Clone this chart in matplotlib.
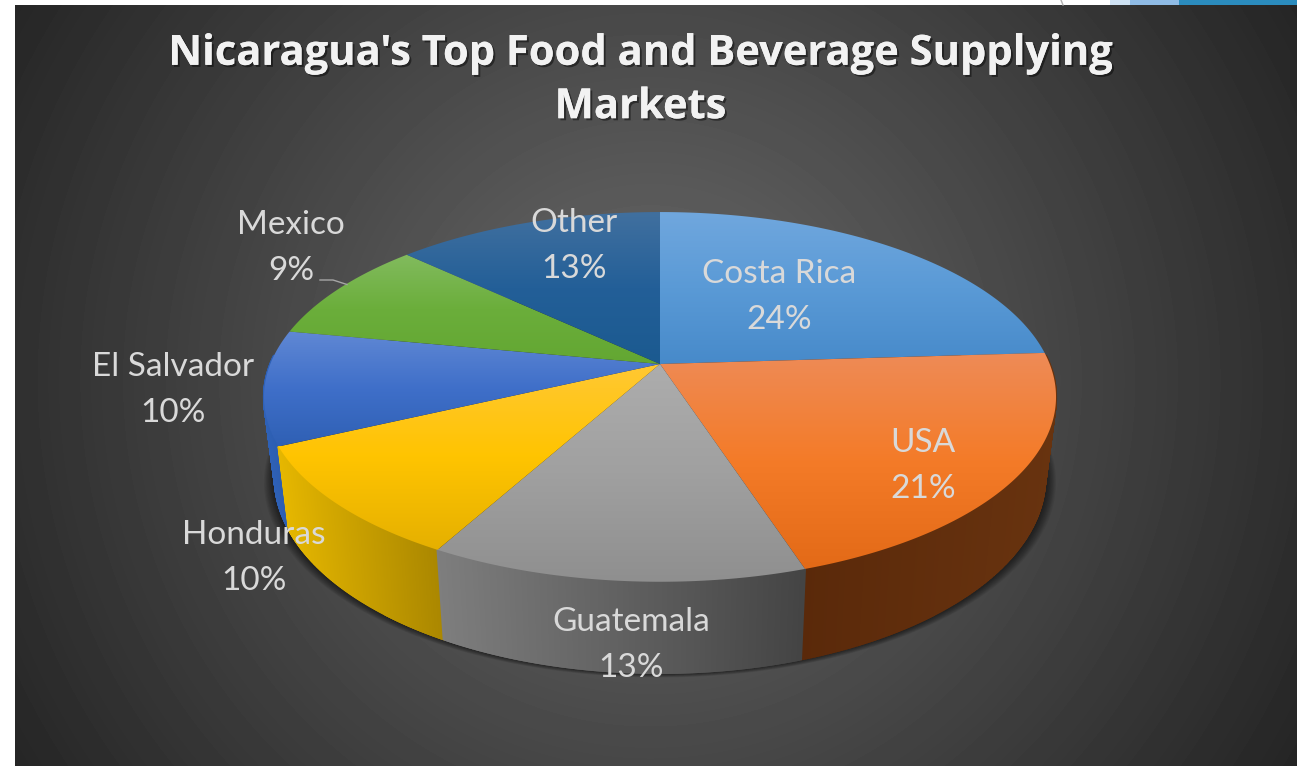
import numpy as np
import matplotlib
matplotlib.use('Agg')
import matplotlib.pyplot as plt
import matplotlib.patheffects as pe
from matplotlib.colors import LinearSegmentedColormap
from matplotlib.patches import Polygon, Rectangle

title = "Nicaragua's Top Food and Beverage Supplying\nMarkets"
markets = ['Costa Rica', 'USA', 'Guatemala', 'Honduras', 'El Salvador', 'Mexico', 'Other']
shares = [24, 21, 13, 10, 10, 9, 13]

# top face colours, light edge to dark edge
top_colors = [
    ['#70a7de', '#5a9ad6', '#478aca'],
    ['#ee8b57', '#f47b28', '#e36a17'],
    ['#adadad', '#a0a0a0', '#8f8f8f'],
    ['#ffc833', '#ffc400', '#e5b000'],
    ['#6088d4', '#3f6fc9', '#2f60b4'],
    ['#82bb5e', '#6bae3b', '#63a732'],
    ['#41709f', '#235f98', '#1b5a90'],
]
side_colors = [
    ['#2e6ca6', '#24588a'],
    ['#5a290a', '#68330f'],
    ['#7e7e7e', '#444444'],
    ['#e6b700', '#a98600'],
    ['#2f62b8', '#2a58a6'],
    ['#4a7f26', '#3f6d20'],
    ['#174a76', '#123c60'],
]
label_pos = [(779, 297), (923, 466), (631, 645), (254, 558), (173, 390), (291, 248), (574, 246)]

W, H = 1297, 766
APEX = (660, 364)
fig = plt.figure(figsize=(W / 100, H / 100), dpi=100, facecolor='white')
ax = fig.add_axes([0, 0, 1, 1])
ax.set_axis_off()


# perspective projection of the unit disc, theta clockwise from 12 o'clock
def project(theta, cx, cy, a, b, k=0.178):
    X, Y = np.sin(theta), np.cos(theta)
    w = 1 + k * Y
    return cx + a * X / w, cy - b * Y / w


def top_xy(theta):
    return project(theta, APEX[0], APEX[1], 389.7, 179)


def bottom_xy(theta):
    return project(theta, APEX[0], 443, 379, 189)


def gradient_fill(verts, colors, z):
    verts = np.asarray(verts)
    x0, y0 = verts.min(axis=0)
    x1, y1 = verts.max(axis=0)
    grad = np.linspace(0, 1, 256)[:, None]
    cmap = LinearSegmentedColormap.from_list('g', colors)
    im = ax.imshow(grad, cmap=cmap, vmin=0, vmax=1, extent=(x0, x1, y1, y0),
                   aspect='auto', zorder=z, interpolation='bilinear')
    clip = Polygon(verts, closed=True, transform=ax.transData, fc='none', ec='none')
    ax.add_patch(clip)
    im.set_clip_path(clip)


# background panel with a radial falloff
yy, xx = np.mgrid[5:H, 15:W]
dist = np.hypot(xx - 650, yy - 380) / 750
shade = np.clip(0x6b - (0x6b - 0x25) * dist, 0, 255) / 255
ax.imshow(shade, cmap='gray', vmin=0, vmax=1, extent=(15, W, H, 5), aspect='auto', zorder=0)

# strip of the slide showing above the panel
ax.add_patch(Rectangle((1110, 0), 20, 5, fc='#cfe2f3', ec='none', zorder=1))
ax.add_patch(Rectangle((1130, 0), 49, 5, fc='#8fbbe5', ec='none', zorder=1))
ax.add_patch(Rectangle((1179, 0), 118, 5, fc='#2b8cbe', ec='none', zorder=1))
ax.plot([1061, 1063], [0, 5], color='#b0b0b0', lw=1, zorder=1)

# soft shadow under the pie
circle = np.linspace(0, 2 * np.pi, 400)
sx, sy = bottom_xy(circle)
for i in range(1, 11):
    ax.fill(APEX[0] + (sx - APEX[0]) * (1 + 0.0028 * i), sy + 0.45 * i, fc='black', alpha=0.07,
            ec='none', zorder=2 - i * 0.01)

edges = 2 * np.pi * np.cumsum([0] + shares) / sum(shares)

# side walls as thin quads, far ones first so the nearer ones cover them;
# the back half of the rim is never visible so it is skipped
quads = []
for n in range(len(shares)):
    t = np.linspace(edges[n], edges[n + 1], 200)
    tx, ty = top_xy(t)
    bx, by = bottom_xy(t)
    cmap = LinearSegmentedColormap.from_list('side', side_colors[n])
    lo, hi = min(tx.min(), bx.min()), max(tx.max(), bx.max())
    for i in range(len(t) - 1):
        depth = np.cos((t[i] + t[i + 1]) / 2)
        if depth > 0.05:
            continue
        colour = cmap((tx[i] - lo) / (hi - lo))
        quads.append((depth, [tx[i], tx[i + 1], bx[i + 1], bx[i]], [ty[i], ty[i + 1], by[i + 1], by[i]], colour))
quads.sort(key=lambda q: q[0], reverse=True)
for depth, qx, qy, colour in quads:
    ax.fill(qx, qy, fc=colour, ec=colour, lw=1.5, zorder=3)

# top faces
for n in range(len(shares)):
    t = np.linspace(edges[n], edges[n + 1], 120)
    tx, ty = top_xy(t)
    verts = np.r_[[APEX], np.c_[tx, ty]]
    gradient_fill(verts, top_colors[n], 4)

# leader line for Mexico
ax.plot([320, 333, 347], [280, 280, 284.5], color='#a6a6a6', lw=1, zorder=5)

for n, name in enumerate(markets):
    ax.text(label_pos[n][0], label_pos[n][1], '%s\n%d%%' % (name, shares[n]), color='#d9d9d9',
            fontsize=24, family='Lato', ha='center', va='center', linespacing=1.63, zorder=6)

shadow = [pe.withSimplePatchShadow(offset=(1.5, -1.5), shadow_rgbFace='black', alpha=0.45), pe.Normal()]
ax.text(640.5, 81, title, color='#f2f2f2', fontsize=30, fontweight='bold', family='Open Sans',
        ha='center', va='center', linespacing=1.4, zorder=6, path_effects=shadow)

ax.set_xlim(0, W)
ax.set_ylim(H, 0)
fig.savefig('out.png', dpi=100, facecolor='white')
